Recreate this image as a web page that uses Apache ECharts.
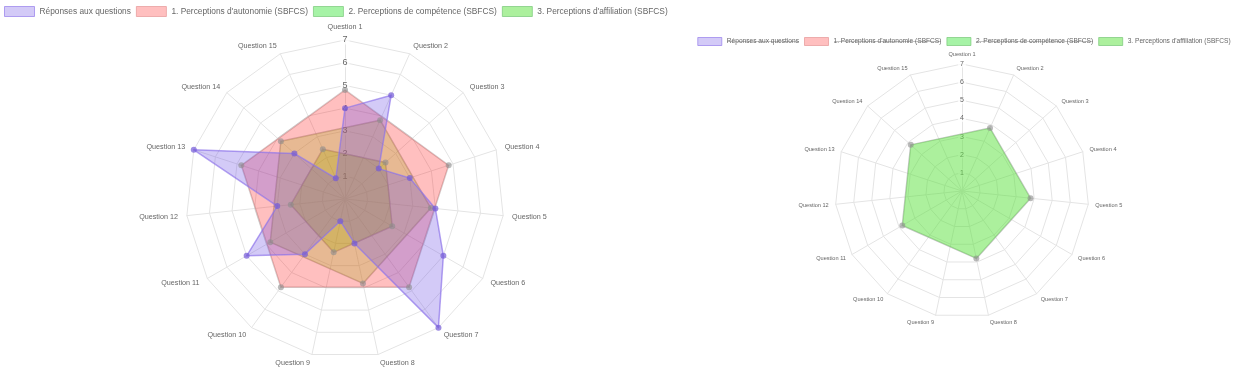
<!DOCTYPE html>
<html>
<head>
<meta charset="utf-8">
<script src="https://cdn.jsdelivr.net/npm/echarts@6/dist/echarts.min.js"></script>
<style>
  html, body { margin: 0; padding: 0; background: #fff; }
  #left { position: absolute; left: 0; top: 0; width: 690px; height: 377px; }
  #right { position: absolute; left: 690px; top: 0; width: 548px; height: 377px; }
</style>
</head>
<body>
<div id="left"></div>
<div id="right"></div>
<script>
const questions = [
  'Question 1', 'Question 2', 'Question 3', 'Question 4', 'Question 5',
  'Question 6', 'Question 7', 'Question 8', 'Question 9', 'Question 10',
  'Question 11', 'Question 12', 'Question 13', 'Question 14', 'Question 15'
]
const seriesNames = [
  'Réponses aux questions',
  '1. Perceptions d\'autonomie (SBFCS)',
  '2. Perceptions de compétence (SBFCS)',
  '3. Perceptions d\'affiliation (SBFCS)'
]
// answers, one per question
const answers = [4, 5, 2, 3, 4, 5, 7, 2, 1, 3, 5, 3, 7, 3, 1]
// subscale scores, drawn on the questions of each subscale
const autonomyQuestions = [1, 4, 7, 10, 13]
const autonomyValues = [4.8, 4.8, 4.8, 4.8, 4.8]
const competenceQuestions = [3, 6, 9, 12, 15]
const competenceValues = [2.4, 2.4, 2.4, 2.4, 2.4]
const affiliationQuestions = [2, 5, 8, 11, 14]
const affiliationValues = [3.8, 3.8, 3.8, 3.8, 3.8]
const scaleMax = 7
// datasets switched off in the second chart
const rightHidden = [0, 1, 2]

const FONT = '"Liberation Sans", Arial, sans-serif'
const GRID = '#e4e4e4'

// legend box colours
const legendColors = [
  { fill: 'rgba(110,80,230,0.3)', line: 'rgba(150,125,235,0.7)' },
  { fill: 'rgba(255,0,0,0.25)', line: 'rgba(230,150,150,0.7)' },
  { fill: 'rgba(0,220,0,0.35)', line: 'rgba(120,200,120,0.7)' },
  { fill: 'rgba(90,225,60,0.5)', line: 'rgba(120,200,120,0.7)' }
]
// fills on the overlaid chart
const leftStyles = [
  { fill: 'rgba(110,80,230,0.3)', line: 'rgba(150,125,235,0.7)', point: 'rgba(115,90,215,0.7)' },
  { fill: 'rgba(255,0,0,0.25)', line: 'rgba(170,150,150,0.5)', point: 'rgba(140,140,140,0.6)' },
  { fill: 'rgba(140,220,0,0.3)', line: 'rgba(150,150,140,0.5)', point: 'rgba(140,140,140,0.6)' },
  { fill: 'rgba(150,230,60,0.3)', line: 'rgba(150,150,140,0.5)', point: 'rgba(140,140,140,0.6)' }
]
const rightStyles = leftStyles.slice(0, 3).concat([
  { fill: 'rgba(90,225,60,0.5)', line: 'rgba(150,160,150,0.6)', point: 'rgba(140,140,140,0.6)' }
])

// small image with a middle line, stretched behind struck legend text
const strike = document.createElement('canvas')
strike.width = 4
strike.height = 16
const sctx = strike.getContext('2d')
sctx.fillStyle = '#888'
sctx.fillRect(0, 8, 4, 1)

// echarts radar goes counter-clockwise, the chart is clockwise
function ccw(list) {
  return [list[0]].concat(list.slice(1).reverse())
}

function mainRadar(c, r, nameSize, tickSize, nameGap) {
  const ind = ccw(questions).map(q => ({ name: q, min: 0, max: scaleMax }))
  ind[0].axisLabel = {
    show: true, color: '#666', fontSize: tickSize, fontFamily: FONT,
    align: 'center', verticalAlign: 'middle', margin: 0,
    backgroundColor: 'rgba(255,255,255,0.75)', padding: [0, 2],
    showMinLabel: false
  }
  return {
    center: c, radius: r, startAngle: 90, shape: 'polygon',
    splitNumber: scaleMax, indicator: ind, nameGap: nameGap,
    axisName: { color: '#666', fontSize: nameSize, fontFamily: FONT },
    axisLine: { lineStyle: { color: GRID } },
    splitLine: { lineStyle: { color: GRID } },
    splitArea: { show: false },
    axisTick: { show: false },
    axisLabel: { show: false }
  }
}

function subRadar(qs, c, r) {
  return {
    center: c, radius: r,
    startAngle: 90 - (qs[0] - 1) * 360 / questions.length,
    splitNumber: scaleMax,
    indicator: ccw(qs).map(q => ({ name: questions[q - 1], min: 0, max: scaleMax })),
    axisName: { show: false },
    axisLine: { show: false },
    splitLine: { show: false },
    splitArea: { show: false },
    axisTick: { show: false },
    axisLabel: { show: false }
  }
}

function radarSeries(styles, k, radarIndex, values) {
  const s = styles[k]
  return {
    type: 'radar', name: seriesNames[k], radarIndex: radarIndex,
    symbol: 'circle', symbolSize: 6, silent: true,
    lineStyle: { color: s.line, width: 1.5 },
    areaStyle: { color: s.fill, opacity: 1 },
    itemStyle: { color: s.point },
    data: values ? [{ name: seriesNames[k], value: ccw(values) }] : []
  }
}

function legend(pos, w, h, size, struck) {
  return Object.assign({
    itemWidth: w, itemHeight: h, itemGap: 5, icon: 'rect', padding: 0, width: 1000,
    textStyle: {
      color: '#666', fontSize: size, fontFamily: FONT,
      rich: { s: { color: '#666', fontSize: size, fontFamily: FONT, backgroundColor: { image: strike } } }
    },
    formatter: name => struck.indexOf(seriesNames.indexOf(name)) >= 0 ? '{s|' + name + '}' : name,
    data: seriesNames.map((n, k) => ({
      name: n,
      itemStyle: { color: legendColors[k].fill, borderColor: legendColors[k].line, borderWidth: 1 }
    }))
  }, pos)
}

const left = echarts.init(document.getElementById('left'))
const lc = [345, 199], lr = 159
left.setOption({
  animation: false,
  legend: legend({ left: 4, top: 6 }, 30, 10, 8.35, []),
  radar: [
    mainRadar(lc, lr, 7.2, 9, 9),
    subRadar(autonomyQuestions, lc, lr),
    subRadar(competenceQuestions, lc, lr),
    subRadar(affiliationQuestions, lc, lr)
  ],
  series: [
    radarSeries(leftStyles, 3, 3, affiliationValues),
    radarSeries(leftStyles, 2, 2, competenceValues),
    radarSeries(leftStyles, 1, 1, autonomyValues),
    radarSeries(leftStyles, 0, 0, answers)
  ]
})

const right = echarts.init(document.getElementById('right'))
const rc = [272, 191], rr = 127
right.setOption({
  animation: false,
  legend: legend({ left: 'center', top: 37 }, 24, 8, 6.6, rightHidden),
  radar: [
    mainRadar(rc, rr, 5.6, 7, 7),
    subRadar(affiliationQuestions, rc, rr)
  ],
  series: [
    radarSeries(rightStyles, 3, 1, affiliationValues),
    radarSeries(rightStyles, 2, 0, null),
    radarSeries(rightStyles, 1, 0, null),
    radarSeries(rightStyles, 0, 0, null)
  ]
})
</script>
</body>
</html>
